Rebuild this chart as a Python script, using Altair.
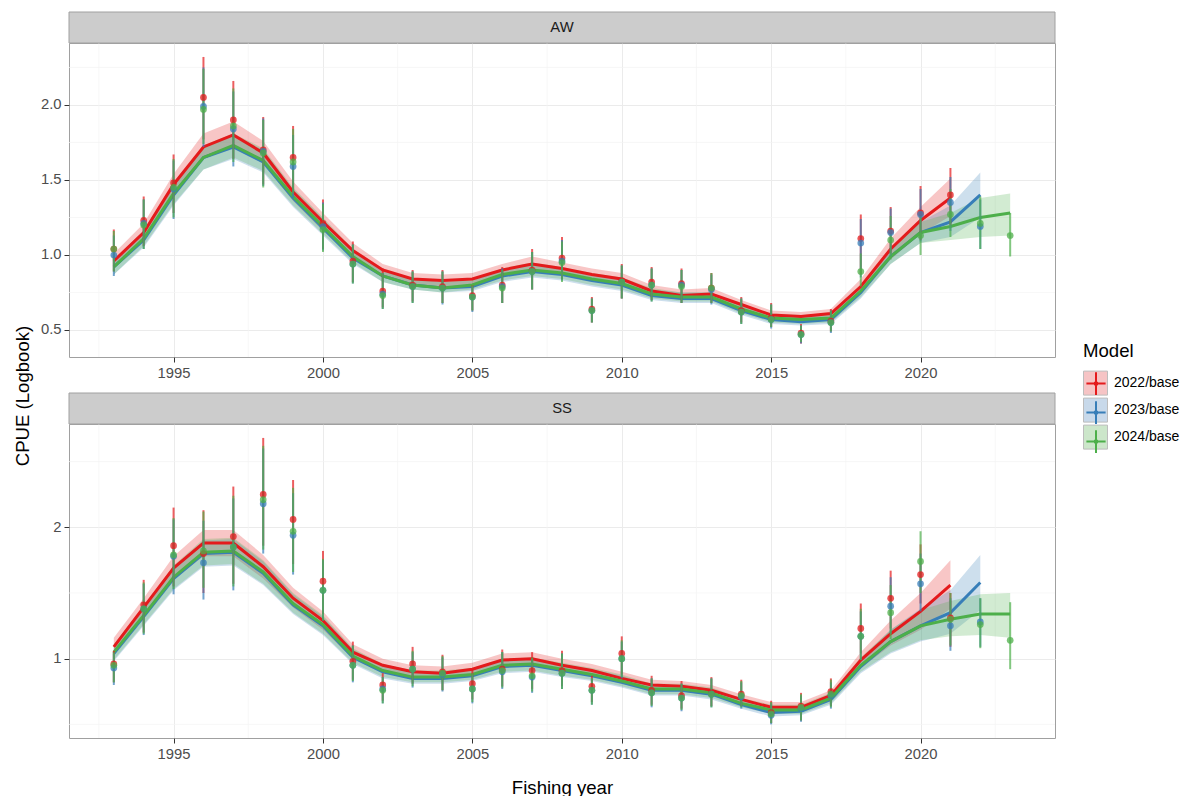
import altair as alt
import pandas as pd

YEARS = list(range(1993, 2024))
MODELS = ["2022/base", "2023/base", "2024/base"]
COLORS = ["#E41A1C", "#377EB8", "#4DAF4A"]
LEGEND_FILLS = ["#F6C4C5", "#C8D9EA", "#CCE6CA"]
X_TICKS = [1995, 2000, 2005, 2010, 2015, 2020]
X_MINOR = [1992.5, 1997.5, 2002.5, 2007.5, 2012.5, 2017.5, 2022.5]
AW_Y_TICKS = [0.5, 1.0, 1.5, 2.0]
AW_Y_MINOR = [0.75, 1.25, 1.75, 2.25]
SS_Y_TICKS = [1, 2]
SS_Y_MINOR = [0.5, 1.5, 2.5]

# ---------------- AW ----------------
AW_FIT_2022 = [0.96,1.15,1.47,1.72,1.80,1.68,1.42,1.22,1.03,0.90,0.84,0.83,0.84,0.90,0.94,0.91,0.87,0.84,0.76,0.73,0.74,0.67,0.60,0.59,0.61,0.79,1.04,1.23,1.38]
AW_LO_2022 = [0.91,1.10,1.40,1.64,1.72,1.61,1.36,1.16,0.98,0.86,0.80,0.79,0.80,0.86,0.90,0.87,0.83,0.80,0.73,0.70,0.71,0.64,0.57,0.56,0.58,0.74,0.97,1.14,1.26]
AW_HI_2022 = [1.01,1.21,1.54,1.81,1.89,1.76,1.49,1.28,1.08,0.94,0.88,0.87,0.88,0.94,0.99,0.95,0.91,0.88,0.80,0.77,0.78,0.70,0.63,0.62,0.64,0.84,1.11,1.32,1.51]
AW_OBS_2022 = [1.04,1.23,1.48,2.05,1.90,1.70,1.65,1.21,0.96,0.76,0.80,0.79,0.73,0.80,0.90,0.98,0.64,0.83,0.82,0.81,0.78,0.63,0.58,0.48,0.56,1.11,1.16,1.28,1.40]
AW_OLO_2022 = [0.89,1.06,1.28,1.77,1.64,1.47,1.43,1.04,0.82,0.65,0.69,0.68,0.63,0.68,0.77,0.84,0.55,0.71,0.70,0.68,0.68,0.55,0.52,0.41,0.49,0.87,1.01,1.10,1.20]
AW_OHI_2022 = [1.17,1.39,1.67,2.32,2.16,1.92,1.86,1.37,1.09,0.91,0.90,0.90,0.80,0.92,1.04,1.12,0.72,0.94,0.92,0.91,0.88,0.72,0.68,0.54,0.64,1.27,1.32,1.46,1.58]

AW_FIT_2023 = [0.92,1.10,1.40,1.65,1.72,1.62,1.38,1.18,0.98,0.86,0.80,0.78,0.79,0.86,0.89,0.87,0.83,0.80,0.73,0.71,0.71,0.63,0.57,0.555,0.57,0.75,0.99,1.15,1.22,1.40]
AW_LO_2023 = [0.87,1.05,1.33,1.57,1.64,1.55,1.32,1.13,0.94,0.82,0.77,0.75,0.76,0.82,0.85,0.83,0.79,0.76,0.70,0.68,0.68,0.60,0.54,0.53,0.54,0.71,0.94,1.08,1.12,1.25]
AW_HI_2023 = [0.97,1.16,1.47,1.73,1.80,1.70,1.44,1.24,1.03,0.90,0.84,0.82,0.83,0.90,0.94,0.91,0.87,0.84,0.77,0.75,0.75,0.66,0.60,0.59,0.60,0.80,1.04,1.22,1.33,1.55]
AW_OBS_2023 = [1.00,1.21,1.44,1.99,1.84,1.69,1.59,1.19,0.94,0.74,0.79,0.78,0.72,0.79,0.89,0.96,0.63,0.82,0.80,0.80,0.77,0.62,0.57,0.47,0.55,1.08,1.15,1.27,1.35,1.19]
AW_OLO_2023 = [0.86,1.04,1.24,1.72,1.59,1.46,1.38,1.03,0.81,0.64,0.68,0.67,0.62,0.68,0.77,0.83,0.55,0.71,0.69,0.68,0.67,0.54,0.51,0.41,0.48,0.85,0.99,1.09,1.16,1.04]
AW_OHI_2023 = [1.13,1.37,1.63,2.25,2.09,1.91,1.80,1.35,1.07,0.88,0.89,0.89,0.79,0.91,1.02,1.10,0.71,0.93,0.91,0.90,0.87,0.71,0.67,0.53,0.63,1.24,1.31,1.44,1.52,1.37]

AW_FIT_2024 = [0.92,1.11,1.41,1.65,1.73,1.63,1.39,1.19,0.99,0.86,0.80,0.78,0.80,0.87,0.90,0.88,0.84,0.81,0.74,0.72,0.72,0.64,0.58,0.57,0.58,0.76,0.99,1.15,1.19,1.25,1.28]
AW_LO_2024 = [0.87,1.06,1.34,1.57,1.65,1.56,1.33,1.14,0.95,0.82,0.77,0.75,0.77,0.83,0.86,0.84,0.80,0.77,0.71,0.69,0.69,0.61,0.55,0.54,0.55,0.72,0.94,1.08,1.10,1.12,1.13]
AW_HI_2024 = [0.97,1.16,1.48,1.73,1.81,1.71,1.45,1.25,1.04,0.90,0.84,0.82,0.84,0.91,0.95,0.92,0.88,0.85,0.78,0.75,0.75,0.67,0.61,0.60,0.61,0.80,1.04,1.22,1.28,1.38,1.41]
AW_OBS_2024 = [1.04,1.20,1.45,1.97,1.86,1.68,1.62,1.17,0.94,0.73,0.79,0.78,0.72,0.78,0.89,0.95,0.63,0.82,0.80,0.79,0.78,0.62,0.57,0.47,0.55,0.89,1.10,1.13,1.27,1.21,1.13]
AW_OLO_2024 = [0.89,1.04,1.25,1.74,1.62,1.45,1.41,1.02,0.81,0.64,0.68,0.68,0.63,0.68,0.77,0.82,0.55,0.71,0.69,0.68,0.68,0.54,0.52,0.42,0.49,0.79,0.97,1.00,1.12,1.04,0.99]
AW_OHI_2024 = [1.16,1.37,1.64,2.24,2.11,1.90,1.84,1.34,1.07,0.88,0.89,0.89,0.80,0.90,1.02,1.09,0.71,0.93,0.91,0.90,0.88,0.71,0.67,0.53,0.63,1.01,1.26,1.27,1.44,1.39,1.28]

# ---------------- SS ----------------
SS_FIT_2022 = [1.09,1.39,1.69,1.88,1.88,1.70,1.46,1.29,1.05,0.95,0.90,0.89,0.92,0.99,1.00,0.95,0.91,0.85,0.80,0.79,0.76,0.69,0.63,0.63,0.72,0.99,1.19,1.36,1.56]
SS_LO_2022 = [1.03,1.32,1.60,1.78,1.78,1.61,1.39,1.22,1.00,0.90,0.86,0.85,0.87,0.94,0.95,0.90,0.87,0.81,0.76,0.75,0.72,0.66,0.60,0.60,0.68,0.93,1.10,1.22,1.38]
SS_HI_2022 = [1.16,1.46,1.78,1.98,1.98,1.79,1.54,1.36,1.11,1.00,0.95,0.94,0.97,1.04,1.05,1.00,0.96,0.90,0.84,0.83,0.80,0.73,0.67,0.67,0.76,1.05,1.29,1.50,1.75]
SS_OBS_2022 = [0.96,1.41,1.86,1.80,1.93,2.25,2.06,1.59,0.98,0.80,0.96,0.90,0.81,0.92,0.91,0.91,0.79,1.04,0.76,0.72,0.74,0.73,0.59,0.64,0.75,1.23,1.46,1.64,1.31]
SS_OLO_2022 = [0.82,1.20,1.55,1.50,1.57,1.86,1.72,1.34,0.84,0.68,0.81,0.76,0.69,0.79,0.77,0.79,0.67,0.88,0.65,0.62,0.64,0.64,0.51,0.53,0.64,1.04,1.23,1.42,1.09]
SS_OHI_2022 = [1.06,1.60,2.15,2.13,2.31,2.68,2.36,1.82,1.13,0.89,1.09,1.03,0.92,1.07,1.05,1.06,0.87,1.17,0.87,0.83,0.86,0.84,0.68,0.74,0.85,1.42,1.67,1.87,1.50]

SS_FIT_2023 = [1.04,1.32,1.61,1.80,1.81,1.65,1.41,1.25,1.01,0.90,0.85,0.85,0.87,0.94,0.95,0.91,0.87,0.82,0.76,0.76,0.73,0.65,0.59,0.60,0.69,0.94,1.13,1.25,1.35,1.58]
SS_LO_2023 = [0.98,1.25,1.52,1.70,1.71,1.56,1.34,1.18,0.96,0.85,0.81,0.81,0.83,0.89,0.90,0.86,0.83,0.78,0.72,0.72,0.69,0.62,0.56,0.57,0.65,0.89,1.04,1.13,1.19,1.37]
SS_HI_2023 = [1.10,1.39,1.70,1.90,1.91,1.74,1.49,1.32,1.07,0.95,0.90,0.90,0.92,0.99,1.00,0.96,0.92,0.87,0.80,0.80,0.77,0.69,0.63,0.64,0.73,1.00,1.22,1.38,1.52,1.79]
SS_OBS_2023 = [0.93,1.38,1.78,1.73,1.85,2.18,1.94,1.52,0.95,0.77,0.92,0.88,0.77,0.90,0.86,0.89,0.76,1.00,0.74,0.70,0.73,0.71,0.57,0.62,0.72,1.17,1.40,1.57,1.25,1.28]
SS_OLO_2023 = [0.80,1.18,1.49,1.45,1.52,1.80,1.64,1.29,0.82,0.66,0.78,0.75,0.66,0.77,0.74,0.77,0.65,0.85,0.63,0.60,0.63,0.62,0.50,0.52,0.62,0.99,1.19,1.36,1.06,1.09]
SS_OHI_2023 = [1.04,1.57,2.06,2.05,2.22,2.60,2.26,1.75,1.10,0.86,1.05,1.01,0.88,1.05,1.00,1.04,0.85,1.13,0.85,0.81,0.85,0.82,0.66,0.72,0.82,1.36,1.62,1.80,1.46,1.46]

SS_FIT_2024 = [1.05,1.33,1.62,1.81,1.82,1.66,1.42,1.26,1.02,0.91,0.86,0.86,0.88,0.95,0.96,0.92,0.88,0.83,0.77,0.77,0.74,0.66,0.61,0.61,0.70,0.95,1.13,1.25,1.30,1.34,1.34]
SS_LO_2024 = [0.99,1.26,1.53,1.71,1.72,1.57,1.35,1.19,0.97,0.86,0.82,0.82,0.84,0.90,0.91,0.87,0.84,0.79,0.73,0.73,0.70,0.63,0.58,0.58,0.66,0.90,1.05,1.14,1.17,1.18,1.16]
SS_HI_2024 = [1.11,1.40,1.71,1.91,1.92,1.75,1.50,1.33,1.08,0.96,0.91,0.91,0.93,1.00,1.01,0.97,0.93,0.88,0.81,0.81,0.78,0.70,0.65,0.65,0.74,1.01,1.22,1.37,1.44,1.49,1.50]
SS_OBS_2024 = [0.95,1.38,1.79,1.82,1.85,2.21,1.97,1.52,0.95,0.76,0.92,0.89,0.77,0.91,0.87,0.89,0.76,1.00,0.74,0.70,0.73,0.72,0.58,0.63,0.73,1.17,1.35,1.74,1.30,1.26,1.14]
SS_OLO_2024 = [0.82,1.19,1.53,1.54,1.55,1.83,1.66,1.29,0.83,0.66,0.79,0.76,0.67,0.78,0.75,0.77,0.65,0.86,0.64,0.61,0.63,0.63,0.51,0.53,0.63,0.99,1.15,1.50,1.10,1.08,0.92]
SS_OHI_2024 = [1.05,1.58,2.07,2.12,2.24,2.62,2.30,1.76,1.10,0.86,1.06,1.02,0.89,1.05,1.01,1.04,0.85,1.14,0.85,0.81,0.85,0.83,0.67,0.73,0.84,1.38,1.56,1.97,1.50,1.46,1.43]

AW_SERIES = [
    (AW_FIT_2022, AW_LO_2022, AW_HI_2022, AW_OBS_2022, AW_OLO_2022, AW_OHI_2022),
    (AW_FIT_2023, AW_LO_2023, AW_HI_2023, AW_OBS_2023, AW_OLO_2023, AW_OHI_2023),
    (AW_FIT_2024, AW_LO_2024, AW_HI_2024, AW_OBS_2024, AW_OLO_2024, AW_OHI_2024),
]
SS_SERIES = [
    (SS_FIT_2022, SS_LO_2022, SS_HI_2022, SS_OBS_2022, SS_OLO_2022, SS_OHI_2022),
    (SS_FIT_2023, SS_LO_2023, SS_HI_2023, SS_OBS_2023, SS_OLO_2023, SS_OHI_2023),
    (SS_FIT_2024, SS_LO_2024, SS_HI_2024, SS_OBS_2024, SS_OLO_2024, SS_OHI_2024),
]


def build(series):
    rows = []
    for model, (fit, lo, hi, obs, olo, ohi) in zip(MODELS, series):
        for i in range(len(fit)):
            rows.append(dict(Model=model, year=YEARS[i], fit=fit[i], lo=lo[i], hi=hi[i],
                             obs=obs[i], olo=olo[i], ohi=ohi[i]))
    return pd.DataFrame(rows)


FONT = "Liberation Sans"
W, H = 986, 314
STRIP_H = 31
CROSS = "M-0.8,0L0.8,0M0,-0.95L0,0.95M0.12,0A0.12,0.12 0 1,1 -0.12,0A0.12,0.12 0 1,1 0.12,0"
LX, LY = 1014, 299


def legend_props(**kw):
    base = dict(title="Model", orient="none", legendX=LX, legendY=LY, symbolSize=576,
                rowPadding=-8, labelOffset=6, titlePadding=10, labelFontSize=14,
                titleFontSize=18.6, labelFont=FONT, titleFont=FONT, titleFontWeight="normal",
                labelColor="#000000", titleColor="#000000", padding=0)
    base.update(kw)
    return alt.Legend(**base)


def panel(df, label, ydomain, yticks, yminor, yfmt, xtitle, with_extras):
    xs = alt.Scale(domain=[1991.5, 2024.5], nice=False, zero=False)
    ys = alt.Scale(domain=ydomain, nice=False, zero=False)
    xax = alt.Axis(values=X_TICKS, format="d", title=xtitle, titlePadding=18)
    yax = alt.Axis(values=yticks, format=yfmt, title=None)
    X = alt.X("year:Q", scale=xs, axis=xax)
    col = alt.Color("Model:N", scale=alt.Scale(domain=MODELS, range=COLORS), legend=None)
    base = alt.Chart(df)

    minor_x = alt.Chart(pd.DataFrame({"v": X_MINOR})).mark_rule(
        color="#F3F3F3", strokeWidth=0.7).encode(x=alt.X("v:Q", scale=xs, axis=xax))
    minor_y = alt.Chart(pd.DataFrame({"v": yminor})).mark_rule(
        color="#F3F3F3", strokeWidth=0.7).encode(y=alt.Y("v:Q", scale=ys, axis=yax))
    ribbon = base.mark_area(opacity=0.25).encode(
        x=X, y=alt.Y("lo:Q", scale=ys, axis=yax), y2="hi:Q", color=col)
    line = base.mark_line(strokeWidth=3).encode(
        x=X, y=alt.Y("fit:Q", scale=ys, axis=yax), color=col)
    err = base.mark_rule(strokeWidth=2, opacity=0.7).encode(
        x=X, y=alt.Y("olo:Q", scale=ys, axis=yax), y2="ohi:Q", color=col)
    pts = base.mark_circle(size=45, opacity=0.75).encode(
        x=X, y=alt.Y("obs:Q", scale=ys, axis=yax), color=col)

    sdf = pd.DataFrame({"s": [label]})
    strip_bg = alt.Chart(sdf).mark_rect(fill="#CCCCCC", stroke="#A0A0A0", strokeWidth=1).encode(
        x=alt.value(0), x2=alt.value(W), y=alt.value(-STRIP_H), y2=alt.value(0))
    strip_tx = alt.Chart(sdf).mark_text(fontSize=14.8, font=FONT, color="#1A1A1A",
                                        baseline="middle", align="center").encode(
        x=alt.value(W / 2), y=alt.value(-STRIP_H / 2), text="s:N")

    layers = [minor_x, minor_y, ribbon, line, err, pts, strip_bg, strip_tx]
    if with_extras:
        ytitle = alt.Chart(pd.DataFrame({"t": ["CPUE (Logbook)"]})).mark_text(
            angle=270, fontSize=18.6, font=FONT, color="#000000",
            baseline="middle", align="center").encode(
            x=alt.value(-46), y=alt.value(353), text="t:N")
        leg_box = base.transform_filter("datum.year < 0").mark_square(filled=True, opacity=1).encode(
            fill=alt.Fill("Model:N", scale=alt.Scale(domain=MODELS, range=LEGEND_FILLS),
                          legend=legend_props(symbolType="square",
                                              symbolStrokeColor="#BDBDBD",
                                              symbolStrokeWidth=1)))
        leg_cross = base.transform_filter("datum.year < 0").mark_point(filled=False, opacity=1).encode(
            stroke=alt.Stroke("Model:N", scale=alt.Scale(domain=MODELS + ["~"], range=COLORS + ["#000000"]),
                              legend=legend_props(values=MODELS, symbolType=CROSS,
                                                  symbolStrokeWidth=2,
                                                  labelOpacity=0, titleOpacity=0)))
        layers += [ytitle, leg_box, leg_cross]
    return alt.layer(*layers).properties(width=W, height=H)


aw = panel(build(AW_SERIES), "AW", [0.32, 2.413], AW_Y_TICKS, AW_Y_MINOR, ".1f", None, True)
ss = panel(build(SS_SERIES), "SS", [0.3965, 2.786], SS_Y_TICKS, SS_Y_MINOR, "d", "Fishing year", False)

chart = alt.vconcat(aw, ss, spacing=67, bounds="flush").resolve_scale(
    fill="independent"
).resolve_legend(
    fill="independent"
).properties(
    padding={"left": 5, "top": 3, "right": 0, "bottom": 0}
).configure(font=FONT).configure_view(
    stroke="#A0A0A0", strokeWidth=1
).configure_axis(
    grid=True, gridColor="#EBEBEB", gridWidth=1, domain=False,
    tickColor="#333333", tickSize=5, labelPadding=3,
    labelFontSize=14.8, labelColor="#4D4D4D", labelFont=FONT,
    titleFont=FONT, titleFontSize=18.6, titleColor="#000000", titleFontWeight="normal"
)

chart.save("out.html", embed_options={"renderer": "svg", "actions": False})
